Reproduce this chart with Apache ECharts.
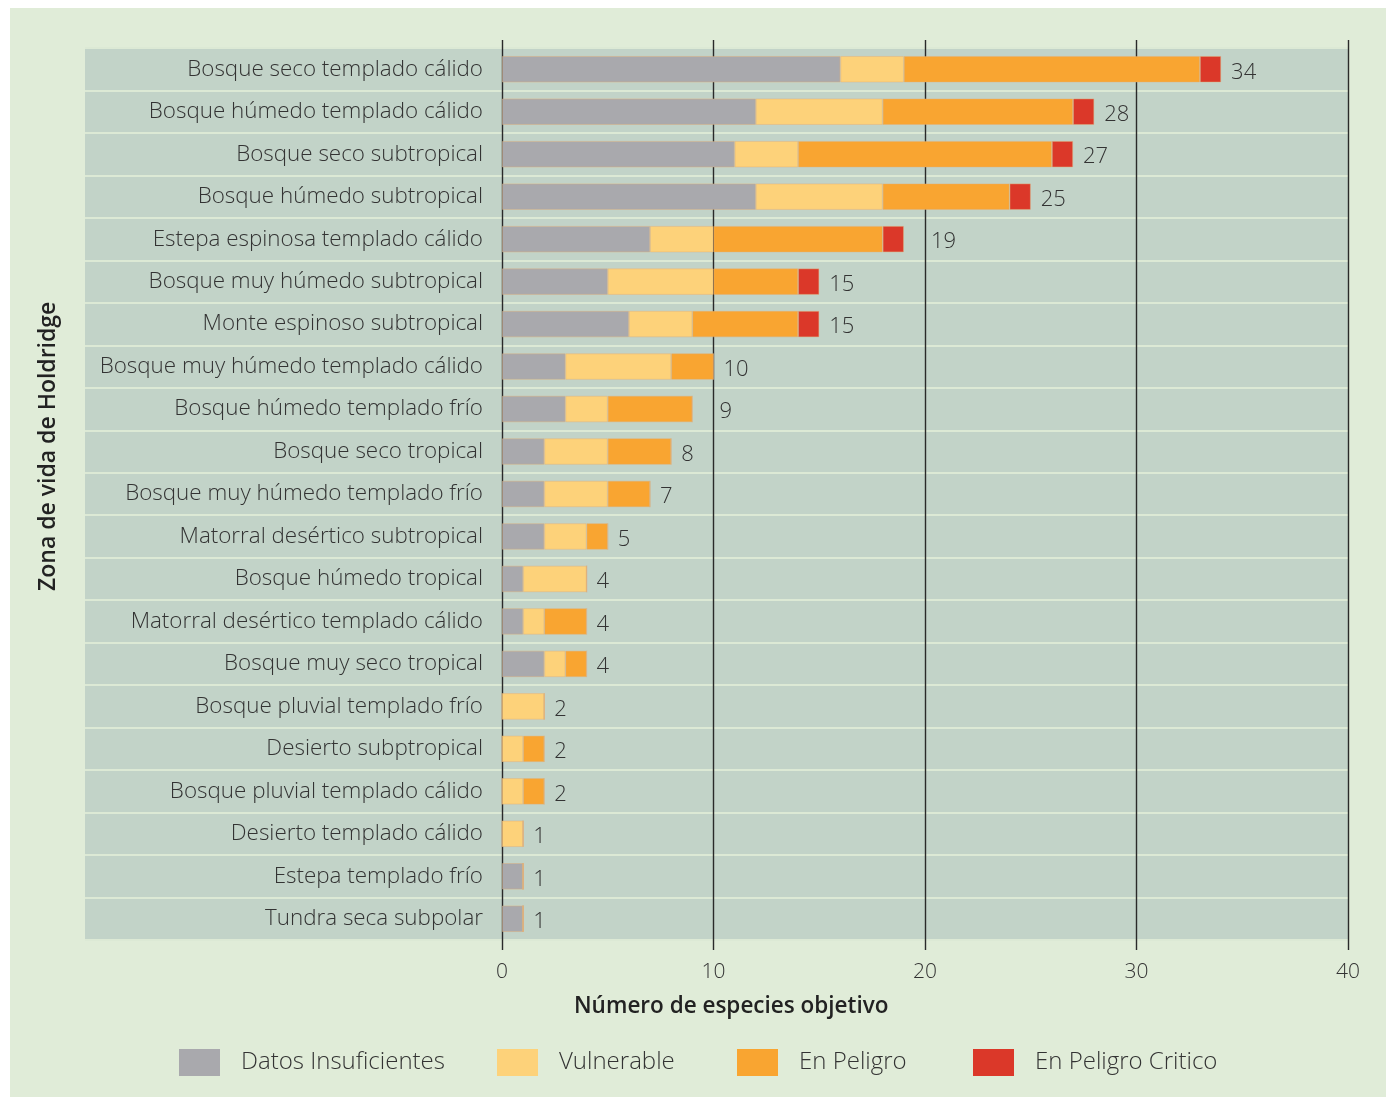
<!DOCTYPE html>
<html>
<head>
<meta charset="utf-8">
<script src="https://cdn.jsdelivr.net/npm/echarts@6/dist/echarts.min.js"></script>
<style>
  html, body { margin: 0; padding: 0; background: #ffffff; }
  #wrap { position: relative; width: 1386px; height: 1097px; }
  #panel { position: absolute; left: 10px; top: 8px; width: 1376px; height: 1089px; background: #e0ecd8; }
  #chart { position: absolute; left: 0; top: 0; width: 1386px; height: 1097px; }
</style>
</head>
<body>
<div id="wrap">
  <div id="panel"></div>
  <div id="chart"></div>
</div>
<script>
// Zonas de vida de Holdridge (top to bottom)
const zonas = [
  'Bosque seco templado cálido',
  'Bosque húmedo templado cálido',
  'Bosque seco subtropical',
  'Bosque húmedo subtropical',
  'Estepa espinosa templado cálido',
  'Bosque muy húmedo subtropical',
  'Monte espinoso subtropical',
  'Bosque muy húmedo templado cálido',
  'Bosque húmedo templado frío',
  'Bosque seco tropical',
  'Bosque muy húmedo templado frío',
  'Matorral desértico subtropical',
  'Bosque húmedo tropical',
  'Matorral desértico templado cálido',
  'Bosque muy seco tropical',
  'Bosque pluvial templado frío',
  'Desierto subptropical',
  'Bosque pluvial templado cálido',
  'Desierto templado cálido',
  'Estepa templado frío',
  'Tundra seca subpolar'
];

// Número de especies objetivo por categoría de amenaza
const datosInsuficientes = [16, 12, 11, 12, 7, 5, 6, 3, 3, 2, 2, 2, 1, 1, 2, 0, 0, 0, 0, 1, 1];
const vulnerable         = [ 3,  6,  3,  6, 3, 5, 3, 5, 2, 3, 3, 2, 3, 1, 1, 2, 1, 1, 1, 0, 0];
const enPeligro          = [14,  9, 12,  6, 8, 4, 5, 2, 4, 3, 2, 1, 0, 2, 1, 0, 1, 1, 0, 0, 0];
const enPeligroCritico   = [ 1,  1,  1,  1, 1, 1, 1, 0, 0, 0, 0, 0, 0, 0, 0, 0, 0, 0, 0, 0, 0];

const xTicks = [0, 10, 20, 30, 40];

const totales = zonas.map((_, i) =>
  datosInsuficientes[i] + vulnerable[i] + enPeligro[i] + enPeligroCritico[i]);

const FONT = '"Open Sans", Lato, sans-serif';
const TXT = '#333333';

const colores = {
  'Datos Insuficientes': '#a9a9ad',
  'Vulnerable': '#fdd27a',
  'En Peligro': '#f9a531',
  'En Peligro Critico': '#db3829'
};

const PLOT_W = 1386 - 502 - 38;
const PX_PER_UNIT = PLOT_W / 40;

// push a total label past a reference line sitting just right of the bar end
function labelDistance(total) {
  const nextLine = Math.ceil(total / 10) * 10;
  const gap = nextLine - total;
  if (gap > 0 && gap <= 1) return gap * PX_PER_UNIT + 6;
  return 10;
}

const chart = echarts.init(document.getElementById('chart'), null, { renderer: 'canvas' });

function stackSeries(name, data) {
  return {
    name: name,
    type: 'bar',
    stack: 'total',
    xAxisIndex: 1,
    yAxisIndex: 1,
    barWidth: '62%',
    data: data,
    itemStyle: {
      color: colores[name],
      borderColor: 'rgba(225,175,120,0.55)',
      borderWidth: 0.8
    },
    emphasis: { disabled: true },
    silent: true
  };
}

function legendItem(name, left) {
  return {
    data: [name],
    left: left,
    top: 1049,
    padding: 0,
    itemWidth: 41,
    itemHeight: 27,
    icon: 'rect',
    selectedMode: false,
    itemStyle: { borderWidth: 0 },
    textStyle: {
      fontFamily: FONT,
      fontWeight: 300,
      fontSize: 24,
      color: TXT,
      padding: [7, 0, 0, 16]
    }
  };
}

const option = {
  backgroundColor: 'transparent',
  animation: false,
  grid: [
    // band behind the rows, including the label column
    { left: 85, right: 38, top: 48, bottom: 157, show: true,
      backgroundColor: '#c2d3c8', borderWidth: 0 },
    // bars
    { left: 502, right: 38, top: 48, bottom: 157 },
    // vertical reference lines and tick labels
    { left: 502, right: 38, top: 40, bottom: 147 }
  ],
  xAxis: [
    { gridIndex: 0, type: 'value', show: false, min: 0, max: 1 },
    { gridIndex: 1, type: 'value', show: false, min: 0, max: 40 },
    {
      gridIndex: 2, type: 'value', min: xTicks[0], max: xTicks[xTicks.length - 1], interval: 10,
      axisLine: { show: false },
      axisTick: { show: false },
      splitLine: { show: true, lineStyle: { color: '#2a2a2a', width: 1.4 } },
      axisLabel: {
        margin: 12, fontFamily: FONT, fontWeight: 300, fontSize: 21, color: TXT,
        formatter: v => xTicks.includes(v) ? String(v) : ''
      }
    }
  ],
  yAxis: [
    {
      gridIndex: 0, type: 'category', inverse: true, data: zonas,
      axisLine: { show: false }, axisTick: { show: false }, axisLabel: { show: false },
      splitLine: { show: true, lineStyle: { color: '#dce9d5', width: 2 } }
    },
    {
      gridIndex: 1, type: 'category', inverse: true, data: zonas,
      axisLine: { show: false }, axisTick: { show: false },
      splitLine: { show: false },
      axisLabel: { margin: 19, fontFamily: FONT, fontWeight: 300, fontSize: 22.4, color: TXT }
    },
    { gridIndex: 2, type: 'value', show: false, min: 0, max: 1 }
  ],
  legend: [
    legendItem('Datos Insuficientes', 179),
    legendItem('Vulnerable', 497),
    legendItem('En Peligro', 737),
    legendItem('En Peligro Critico', 973)
  ],
  graphic: [
    {
      type: 'text', left: 574, top: 995,
      style: {
        text: 'Número de especies objetivo',
        font: '600 22.5px ' + FONT, fill: '#222222'
      }
    },
    {
      type: 'text', rotation: Math.PI / 2,
      x: 37, y: 591,
      style: {
        text: 'Zona de vida de Holdridge',
        font: '600 23px ' + FONT, fill: '#222222'
      }
    }
  ],
  series: [
    stackSeries('Datos Insuficientes', datosInsuficientes),
    stackSeries('Vulnerable', vulnerable),
    stackSeries('En Peligro', enPeligro),
    stackSeries('En Peligro Critico', enPeligroCritico),
    {
      name: 'Total',
      type: 'bar',
      xAxisIndex: 1,
      yAxisIndex: 1,
      barWidth: '62%',
      barGap: '-100%',
      data: totales.map(t => ({
        value: t,
        label: { distance: labelDistance(t) }
      })),
      itemStyle: { color: 'rgba(0,0,0,0)' },
      label: {
        show: true, position: 'right',
        fontFamily: FONT, fontWeight: 300, fontSize: 22, color: TXT,
        offset: [0, 3]
      },
      silent: true,
      z: 1
    }
  ]
};

chart.setOption(option);
</script>
</body>
</html>
